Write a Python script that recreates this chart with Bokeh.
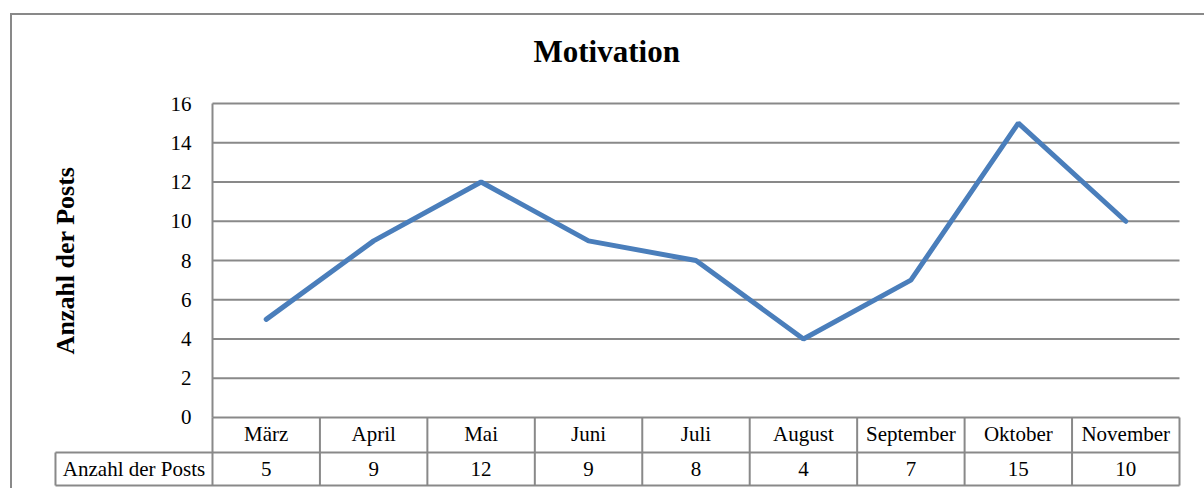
from bokeh.plotting import figure
from bokeh.models import Range1d, FixedTicker, CustomJSTickFormatter, InlineStyleSheet
from bokeh.core.properties import value
from bokeh.embed import file_html
from bokeh.resources import INLINE

# ---- data ----
months = ["März", "April", "Mai", "Juni", "Juli", "August", "September", "Oktober", "November"]
posts = [5, 9, 12, 9, 8, 4, 7, 15, 10]
y_ticks = [0, 2, 4, 6, 8, 10, 12, 14, 16]
series_name = "Anzahl der Posts"
title_text = "Motivation"
y_label = "Anzahl der Posts"

# ---- layout constants (pixels -> data units) ----
n = len(months)
xs = [i + 0.5 for i in range(n)]
PX_X = 107.44          # pixels per category
PX_Y = 19.625          # pixels per y unit
HDR = 157 / PX_X       # width of the table's header column
ROW1 = 35 / PX_Y       # bottom of the month row
ROW2 = 68 / PX_Y       # bottom of the value row
FONT = "Liberation Serif"
GRID = "#898989"

p = figure(width=1204, height=488, output_backend="svg", toolbar_location=None,
           x_range=Range1d(-1.489, 9.028), y_range=Range1d(-3.618, 16.306),
           min_border_left=52, min_border_right=22, min_border_top=97, min_border_bottom=0)
p.outline_line_color = None
p.background_fill_color = "white"
p.border_fill_color = "white"
p.xgrid.visible = False
p.ygrid.visible = False

# outer chart-area border (top and left edges visible in the window)
p.stylesheets = [InlineStyleSheet(css=(
    ":host::after { content: ''; position: absolute; left: 10px; top: 13px; right: 0; bottom: 0;"
    " border-top: 2px solid #898989; border-left: 2px solid #898989; pointer-events: none; }"))]

# title
p.title.text = title_text
p.title.align = "left"
p.title.offset = 481
p.title.text_font = FONT
p.title.text_font_size = "31px"
p.title.text_font_style = "bold"
p.title.text_color = "black"
p.title.standoff = 58

# y axis (value axis) placed at the first category boundary
ya = p.yaxis[0]
ya.fixed_location = 0
ya.bounds = (y_ticks[0], y_ticks[-1])
ya.ticker = FixedTicker(ticks=y_ticks)
ya.major_tick_in = 0
ya.major_tick_out = 0
ya.minor_tick_in = 0
ya.minor_tick_out = 0
ya.axis_line_color = GRID
ya.axis_line_width = 2
ya.major_label_text_font = FONT
ya.major_label_text_font_size = "21px"
ya.major_label_text_color = "black"
ya.major_label_standoff = 21
ya.axis_label = y_label
ya.axis_label_text_font = FONT
ya.axis_label_text_font_size = "26px"
ya.axis_label_text_font_style = "bold"
ya.axis_label_text_color = "black"
ya.axis_label_standoff = 88

# x axis (category axis) -> first row of the data table
xa = p.xaxis[0]
xa.fixed_location = 0
xa.ticker = FixedTicker(ticks=xs)
xa.formatter = CustomJSTickFormatter(args=dict(months=months),
                                     code="return months[Math.floor(tick)]")
xa.axis_line_color = None
xa.major_tick_in = 0
xa.major_tick_out = 0
xa.minor_tick_in = 0
xa.minor_tick_out = 0
xa.major_label_text_font = FONT
xa.major_label_text_font_size = "21px"
xa.major_label_text_color = "black"
xa.major_label_standoff = 5

# horizontal gridlines over the plot area
p.segment(x0=[0] * len(y_ticks), x1=[n] * len(y_ticks), y0=y_ticks, y1=y_ticks,
          line_color=GRID, line_width=2)

# data table lines
p.segment(x0=[-HDR, -HDR], x1=[n, n], y0=[-ROW1, -ROW2], y1=[-ROW1, -ROW2],
          line_color=GRID, line_width=2)
p.segment(x0=list(range(0, n + 1)), x1=list(range(0, n + 1)),
          y0=[0] * (n + 1), y1=[-ROW2] * (n + 1), line_color=GRID, line_width=2)
p.segment(x0=[-HDR], x1=[-HDR], y0=[-ROW1], y1=[-ROW2], line_color=GRID, line_width=2)

# data table values and row header
row_y = -(ROW1 + ROW2) / 2
p.text(x=xs, y=[row_y] * n, text=[str(v) for v in posts],
       text_font=value(FONT), text_font_size="21px", text_color="black",
       text_align="center", text_baseline="middle")
p.text(x=[-HDR / 2], y=[row_y], text=[series_name],
       text_font=value(FONT), text_font_size="21px", text_color="black",
       text_align="center", text_baseline="middle")

# series line
p.line(x=xs, y=posts, line_color="#4A7EBB", line_width=5, line_cap="round")

open("out.html", "w").write(file_html(p, INLINE))
